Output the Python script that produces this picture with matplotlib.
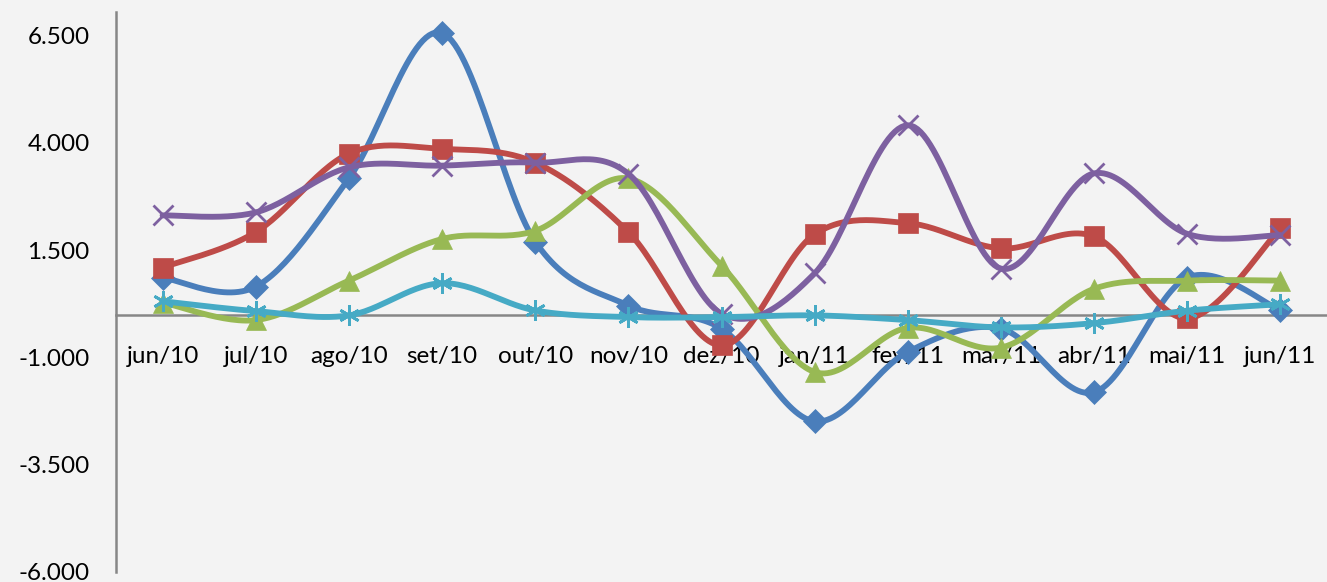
import numpy as np
import matplotlib
matplotlib.use('Agg')
import matplotlib.pyplot as plt


months = ['jun/10', 'jul/10', 'ago/10', 'set/10', 'out/10', 'nov/10', 'dez/10',
          'jan/11', 'fev/11', 'mar/11', 'abr/11', 'mai/11', 'jun/11']

blue = [860, 650, 3170, 6560, 1700, 210, -330, -2490, -870, -330, -1810, 860, 100]
red = [1095, 1920, 3750, 3860, 3540, 1920, -720, 1870, 2130, 1540, 1820, -90, 2010]
green = [280, -130, 790, 1760, 1950, 3170, 1140, -1340, -310, -770, 600, 790, 790]
purple = [2310, 2380, 3430, 3470, 3540, 3280, 20, 960, 4410, 1070, 3290, 1880, 1850]
cyan = [310, 80, -20, 730, 95, -60, -60, -20, -130, -300, -200, 90, 240]

yticks = [-6000, -3500, -1000, 1500, 4000, 6500]


# Excel-style smoothed line: cubic bezier with catmull-rom control points.
def smooth(xs, ys, n=30):
    p = np.column_stack([xs, ys]).astype(float)
    p = np.vstack([p[0], p, p[-1]])
    out = []
    t = np.linspace(0, 1, n)[:, None]
    for i in range(1, len(p) - 2):
        p0, p1, p2, p3 = p[i - 1], p[i], p[i + 1], p[i + 2]
        c1 = p1 + (p2 - p0) / 6
        c2 = p2 - (p3 - p1) / 6
        seg = ((1 - t) ** 3) * p1 + 3 * ((1 - t) ** 2) * t * c1 \
            + 3 * (1 - t) * t ** 2 * c2 + t ** 3 * p2
        out.append(seg if i == 1 else seg[1:])
    seg = np.vstack(out)
    return seg[:, 0], seg[:, 1]


plt.rcParams['font.family'] = ['Lato', 'DejaVu Sans']

fig = plt.figure(figsize=(13.27, 5.82), dpi=100)
fig.patch.set_facecolor('#f3f3f3')
ax = fig.add_axes([116 / 1327, 1 - 572 / 582, 1 - 116 / 1327, 560 / 582])
ax.set_facecolor('#f3f3f3')

x = np.arange(len(months))
series = [
    (blue, '#4a7ebb', 'D', 12, 'full'),
    (red, '#be4b48', 's', 15, 'full'),
    (green, '#98b954', '^', 15, 'full'),
    (purple, '#7d60a0', 'x', 15, 'none'),
    (cyan, '#46aac5', (6, 2, 0), 15, 'none'),
]
for vals, col, mk, ms, fill in series:
    sx, sy = smooth(x, vals)
    ax.plot(sx, sy, color=col, lw=4.2, solid_capstyle='round', zorder=3)
    ax.plot(x, vals, ls='none', marker=mk, ms=ms, color=col,
            markeredgecolor=col, markeredgewidth=2 if fill == 'none' else 0.5,
            zorder=3)

ax.set_xlim(-0.5, 12.5)
ax.set_ylim(-6000, 7050)
ax.set_yticks(yticks)
ax.set_yticklabels([f'{v:,.0f}'.replace(',', '.') for v in yticks])
ax.set_xticks(x)
ax.set_xticklabels(months)

for side in ['top', 'right']:
    ax.spines[side].set_visible(False)
ax.spines['bottom'].set_position(('data', 0))
ax.spines['bottom'].set_zorder(2)
for side in ['left', 'bottom']:
    ax.spines[side].set_color('#868686')
    ax.spines[side].set_linewidth(1.8)

ax.tick_params(axis='both', length=0, labelsize=17.5, colors='black')
ax.tick_params(axis='y', pad=19)
ax.tick_params(axis='x', pad=23)

fig.savefig('out.png', dpi=100, facecolor=fig.get_facecolor())
